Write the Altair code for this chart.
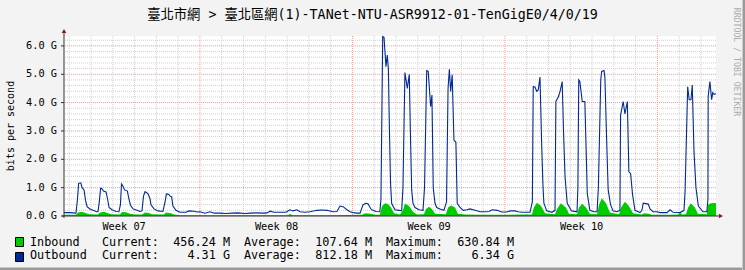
import altair as alt
import pandas as pd

TITLE = "臺北市網 > 臺北區網(1)-TANet-NTU-ASR9912-01-TenGigE0/4/0/19"

# x = days since left edge of the graph, y = Gbit/s
out_day = [0.00, 0.28, 0.55, 0.62, 0.67, 0.77, 0.83, 0.92, 0.99, 1.06, 1.19, 1.33, 1.50, 1.56,
           1.62, 1.68, 1.74, 1.81, 1.93, 2.00, 2.07, 2.20, 2.39, 2.52, 2.59, 2.64, 2.71, 2.78,
           2.91, 2.98, 3.05, 3.17, 3.35, 3.49, 3.58, 3.65, 3.72, 3.79, 3.86, 3.95, 3.99, 4.13,
           4.31, 4.54, 4.64, 4.70, 4.80, 4.87, 4.94, 5.00, 5.14, 5.32, 5.60, 5.74, 5.97, 6.11,
           6.24, 6.47, 6.70, 6.89, 7.16, 7.44, 7.71, 7.99, 8.31, 8.54, 8.81, 9.09, 9.32, 9.46,
           9.64, 9.91, 10.19, 10.37, 10.51, 10.69, 10.83, 11.06, 11.29, 11.61, 11.84, 12.07,
           12.35, 12.53, 12.67, 12.81, 12.99, 13.13, 13.27, 13.45, 13.59, 13.73, 13.86, 13.95,
           14.09, 14.18, 14.32, 14.50, 14.55, 14.63, 14.69, 14.78, 14.84, 14.89, 14.94, 14.99,
           15.04, 15.19, 15.38, 15.50, 15.56, 15.65, 15.76, 15.85, 15.90, 15.96, 16.02, 16.11,
           16.30, 16.48, 16.55, 16.65, 16.72, 16.83, 16.89, 16.95, 17.03, 17.11, 17.26, 17.44,
           17.56, 17.63, 17.69, 17.75, 17.82, 17.90, 17.99, 18.05, 18.18, 18.33, 18.50, 18.64,
           18.87, 19.10, 19.33, 19.51, 19.65, 19.88, 20.10, 20.33, 20.47, 20.70, 20.84, 21.02,
           21.39, 21.50, 21.54, 21.62, 21.70, 21.77, 21.85, 21.93, 21.99, 22.03, 22.16, 22.40,
           22.54, 22.58, 22.69, 22.77, 22.87, 22.93, 23.00, 23.10, 23.30, 23.55, 23.59, 23.63,
           23.68, 23.79, 23.91, 23.98, 24.02, 24.14, 24.33, 24.47, 24.53, 24.64, 24.68, 24.79,
           24.83, 24.91, 24.98, 25.09, 25.20, 25.38, 25.52, 25.55, 25.67, 25.75, 25.86, 25.93,
           26.01, 26.10, 26.21, 26.36, 26.44, 26.53, 26.59, 26.82, 26.90, 27.04, 27.22, 27.36,
           27.68, 27.82, 27.96, 28.28, 28.46, 28.51, 28.63, 28.70, 28.78, 28.84, 28.92, 29.01,
           29.12, 29.33, 29.51, 29.56, 29.57, 29.65, 29.73, 29.78, 29.84, 29.93]
out_gbps = [0.12, 0.12, 0.10, 0.60, 1.15, 1.17, 1.00, 0.92, 0.55, 0.33, 0.25, 0.20, 0.15, 0.15,
            0.50, 0.98, 0.96, 0.88, 0.85, 0.60, 0.30, 0.22, 0.16, 0.15, 0.40, 1.13, 1.05, 0.92,
            0.88, 0.60, 0.38, 0.25, 0.20, 0.16, 0.18, 0.70, 0.86, 0.82, 0.78, 0.60, 0.40, 0.25,
            0.18, 0.16, 0.50, 0.78, 0.77, 0.70, 0.68, 0.35, 0.20, 0.13, 0.13, 0.18, 0.17, 0.14,
            0.15, 0.10, 0.15, 0.10, 0.10, 0.09, 0.10, 0.11, 0.09, 0.10, 0.11, 0.10, 0.11, 0.17,
            0.13, 0.13, 0.13, 0.22, 0.18, 0.22, 0.15, 0.13, 0.15, 0.20, 0.21, 0.20,
            0.15, 0.16, 0.35, 0.33, 0.22, 0.15, 0.12, 0.10, 0.10, 0.40, 0.45, 0.43,
            0.25, 0.20, 0.16, 0.15, 0.60, 6.33, 6.30, 5.27, 5.68, 5.20, 3.00, 1.15,
            0.45, 0.22, 0.20, 0.18, 1.00, 5.06, 4.50, 5.00, 3.00, 0.92, 0.45, 0.30,
            0.22, 0.20, 1.00, 5.13, 5.10, 3.86, 4.27, 1.00, 0.45, 0.30, 0.25, 0.20,
            0.50, 4.50, 5.18, 4.39, 4.98, 2.68, 2.60, 0.45, 0.30, 0.20, 0.22, 0.25,
            0.20, 0.15, 0.15, 0.16, 0.22, 0.20, 0.14, 0.14, 0.18, 0.18, 0.15, 0.13,
            0.13, 0.50, 4.56, 4.55, 4.40, 4.45, 4.90, 2.45, 1.00, 0.45, 0.18, 0.13,
            0.20, 4.04, 4.20, 4.39, 4.74, 3.00, 1.39, 0.45, 0.18, 0.15, 1.00, 4.80,
            4.75, 4.04, 4.04, 2.00, 0.80, 0.20, 0.15, 0.15, 1.00, 4.80, 5.10, 5.13,
            4.90, 2.68, 0.92, 0.40, 0.18, 0.15, 0.20, 3.56, 4.04, 3.60, 4.04, 1.56,
            1.50, 0.75, 0.20, 0.15, 0.12, 0.20, 0.45, 0.42, 0.25, 0.15, 0.15, 0.12,
            0.12, 0.22, 0.13, 0.12, 0.20, 0.85, 4.56, 4.10, 4.10, 4.62, 2.27, 1.00,
            0.35, 0.15, 0.15, 0.60, 4.21, 4.74, 4.10, 4.35, 4.29, 4.31]

in_day = [0.00, 0.55, 0.64, 0.83, 1.01, 1.19, 1.56, 1.65, 1.84, 2.02, 2.20, 2.57, 2.66, 2.85,
          3.03, 3.26, 3.58, 3.72, 3.90, 4.04, 4.59, 4.68, 4.91, 5.05, 5.32, 6.24, 9.00, 10.28,
          10.37, 10.51, 12.21, 13.68, 13.82, 14.09, 14.28, 14.50, 14.60, 14.74, 14.87, 15.01,
          15.15, 15.42, 15.56, 15.65, 15.84, 16.02, 16.20, 16.52, 16.62, 16.75, 16.89, 17.03,
          17.53, 17.63, 17.77, 17.95, 18.08, 18.41, 19.10, 20.01, 20.93, 21.48, 21.57, 21.71,
          21.90, 22.08, 22.54, 22.63, 22.81, 23.04, 23.18, 23.55, 23.64, 23.78, 23.96, 24.14,
          24.47, 24.56, 24.69, 24.88, 25.06, 25.48, 25.57, 25.75, 25.93, 26.12, 26.53, 26.62,
          26.85, 26.99, 27.82, 28.19, 28.28, 28.37, 28.55, 28.65, 28.78, 28.96, 29.10, 29.51,
          29.56, 29.69, 29.93]
in_gbps = [0.04, 0.04, 0.12, 0.15, 0.10, 0.06, 0.05, 0.12, 0.15, 0.10, 0.06, 0.05, 0.14, 0.13,
           0.08, 0.05, 0.05, 0.12, 0.11, 0.06, 0.05, 0.12, 0.10, 0.05, 0.03, 0.03, 0.03, 0.03,
           0.07, 0.03, 0.03, 0.04, 0.10, 0.08, 0.04, 0.04, 0.35, 0.45, 0.42, 0.30,
           0.10, 0.05, 0.20, 0.44, 0.35, 0.15, 0.05, 0.06, 0.25, 0.33, 0.25, 0.08,
           0.06, 0.30, 0.37, 0.30, 0.08, 0.05, 0.04, 0.04, 0.05, 0.05, 0.30, 0.47,
           0.35, 0.10, 0.06, 0.25, 0.45, 0.30, 0.08, 0.06, 0.30, 0.43, 0.30, 0.08,
           0.06, 0.40, 0.63, 0.45, 0.12, 0.06, 0.30, 0.50, 0.35, 0.10, 0.05, 0.10,
           0.08, 0.04, 0.04, 0.05, 0.12, 0.05, 0.06, 0.30, 0.45, 0.30, 0.08, 0.06,
           0.40, 0.45, 0.46]

week_labels = ["Week 07", "Week 08", "Week 09", "Week 10"]
week_centers = [2.76, 9.76, 16.76, 23.76]
week_bounds = [6.24, 13.24, 20.24, 27.24]
day_lines = [round(0.24 + k, 2) for k in range(30) if round(0.24 + k, 2) not in week_bounds]
y_major = [1, 2, 3, 4, 5, 6]
y_minor = [round(0.2 * k, 1) for k in range(1, 32) if k % 5 != 0]
y_tick_vals = [0, 1, 2, 3, 4, 5, 6]
y_tick_labels = ["0.0 G", "1.0 G", "2.0 G", "3.0 G", "4.0 G", "5.0 G", "6.0 G"]

legend_names = ["Inbound", "Outbound"]
legend_colors = ["#00CC00", "#002A97"]
legend_current = ["456.24 M", "4.31 G"]
legend_average = ["107.64 M", "812.18 M"]
legend_maximum = ["630.84 M", "6.34 G"]

X_MAX = 29.93
Y_MAX = 6.35
W, H = 652, 180
PL, PT = 64, 36
MONO = "DejaVu Sans Mono"

xs = alt.Scale(domain=[0, X_MAX], nice=False, zero=False)
ys = alt.Scale(domain=[0, Y_MAX], nice=False, zero=False)

one = pd.DataFrame({"k": [0]})


def label(text, x, y, size, **kw):
    return alt.Chart(one).mark_text(text=text, font=kw.pop("font", MONO), fontSize=size,
                                    **kw).encode(x=alt.value(x - PL), y=alt.value(y - PT))


layers = []
# grid
layers.append(alt.Chart(pd.DataFrame({"d": day_lines})).mark_rule(
    color="#CFCFCF", strokeDash=[1, 1], strokeWidth=1).encode(
    x=alt.X("d:Q", scale=xs, axis=None)))
layers.append(alt.Chart(pd.DataFrame({"v": y_minor})).mark_rule(
    color="#CFCFCF", strokeDash=[1, 1], strokeWidth=1).encode(
    y=alt.Y("v:Q", scale=ys, axis=None)))
layers.append(alt.Chart(pd.DataFrame({"d": week_bounds})).mark_rule(
    color="#F29C9C", strokeDash=[1, 1], strokeWidth=1).encode(
    x=alt.X("d:Q", scale=xs, axis=None)))
layers.append(alt.Chart(pd.DataFrame({"v": y_major})).mark_rule(
    color="#F29C9C", strokeDash=[1, 1], strokeWidth=1).encode(
    y=alt.Y("v:Q", scale=ys, axis=None)))

# data
layers.append(alt.Chart(pd.DataFrame({"d": in_day, "g": in_gbps})).mark_area(
    color="#00CC00", opacity=1).encode(
    x=alt.X("d:Q", scale=xs, axis=None), y=alt.Y("g:Q", scale=ys, axis=None)))
layers.append(alt.Chart(pd.DataFrame({"d": out_day, "g": out_gbps})).mark_line(
    color="#002A97", strokeWidth=1.1).encode(
    x=alt.X("d:Q", scale=xs, axis=None), y=alt.Y("g:Q", scale=ys, axis=None)))

# axes
layers.append(alt.Chart(one).mark_rule(color="#333333", strokeWidth=1).encode(
    x=alt.value(-2), x2=alt.value(W + 3), y=alt.value(H)))
layers.append(alt.Chart(one).mark_rule(color="#333333", strokeWidth=1).encode(
    x=alt.value(0), y=alt.value(-4), y2=alt.value(H + 2)))
layers.append(alt.Chart(one).mark_point(shape="triangle-up", filled=True, size=22,
                                        color="#8E1B1B", opacity=1).encode(
    x=alt.value(0), y=alt.value(-5)))
layers.append(alt.Chart(one).mark_point(shape="triangle-right", filled=True, size=22,
                                        color="#8E1B1B", opacity=1).encode(
    x=alt.value(W + 5), y=alt.value(H)))

# y ticks + labels
ytab = pd.DataFrame({"v": y_tick_vals, "lab": y_tick_labels})
layers.append(alt.Chart(ytab).mark_rule(color="#333333").encode(
    y=alt.Y("v:Q", scale=ys, axis=None), x=alt.value(-3), x2=alt.value(0)))
layers.append(alt.Chart(ytab).mark_text(font=MONO, fontSize=10.3, align="right",
                                        baseline="middle", color="#000000").encode(
    y=alt.Y("v:Q", scale=ys, axis=None), x=alt.value(-7), text="lab:N"))

# week labels
layers.append(alt.Chart(pd.DataFrame({"d": week_centers, "lab": week_labels})).mark_text(
    font=MONO, fontSize=10.3, align="center", baseline="middle", color="#000000").encode(
    x=alt.X("d:Q", scale=xs, axis=None), y=alt.value(226.5 - PT), text="lab:N"))

# title, axis title, watermark
layers.append(label(TITLE, 372.5, 14.5, 13.3, font=MONO + ", Noto Sans CJK TC",
                    align="center", baseline="middle", color="#000000"))
layers.append(label("bits per second", 11, 126, 10, align="center", baseline="middle",
                    angle=270, color="#000000"))
layers.append(label("RRDTOOL / TOBI OETIKER", 736, 62, 8.2, align="center",
                    baseline="middle", angle=90, color="#ABABAB"))

# legend
row_base = [245.6, 259.4]
row_top = [237, 252]
for i in range(2):
    layers.append(alt.Chart(one).mark_rect(color=legend_colors[i], stroke="#000000",
                                           strokeWidth=1).encode(
        x=alt.value(15.5 - PL), x2=alt.value(23.5 - PL),
        y=alt.value(row_top[i] + 0.5 - PT), y2=alt.value(row_top[i] + 9.5 - PT)))
    b = row_base[i]
    common = dict(baseline="alphabetic", color="#000000")
    layers.append(label(legend_names[i], 30, b, 11.8, align="left", **common))
    layers.append(label("Current:", 102, b, 11.8, align="left", **common))
    layers.append(label(legend_current[i], 230, b, 11.8, align="right", **common))
    layers.append(label("Average:", 244, b, 11.8, align="left", **common))
    layers.append(label(legend_average[i], 372, b, 11.8, align="right", **common))
    layers.append(label("Maximum:", 386, b, 11.8, align="left", **common))
    layers.append(label(legend_maximum[i], 514, b, 11.8, align="right", **common))

# frame shading
layers.append(alt.Chart(one).mark_rule(color="#CBCBCB", strokeWidth=1).encode(
    x=alt.value(-PL), x2=alt.value(745 - PL), y=alt.value(267.5 - PT)))
layers.append(alt.Chart(one).mark_rule(color="#9A9A9A", strokeWidth=2).encode(
    x=alt.value(-PL), x2=alt.value(745 - PL), y=alt.value(269 - PT)))
layers.append(alt.Chart(one).mark_rule(color="#CBCBCB", strokeWidth=1).encode(
    x=alt.value(742.5 - PL), y=alt.value(-PT), y2=alt.value(270 - PT)))
layers.append(alt.Chart(one).mark_rule(color="#9A9A9A", strokeWidth=2).encode(
    x=alt.value(744 - PL), y=alt.value(-PT), y2=alt.value(270 - PT)))

chart = alt.layer(*layers).properties(
    width=W, height=H,
    autosize=alt.AutoSizeParams(type="none"),
    padding={"left": PL, "top": PT, "right": 745 - PL - W, "bottom": 270 - PT - H},
).configure(background="#F3F3F3").configure_view(fill="#FFFFFF", stroke=None)

chart.save("out.html", embed_options={"renderer": "svg", "actions": False})
